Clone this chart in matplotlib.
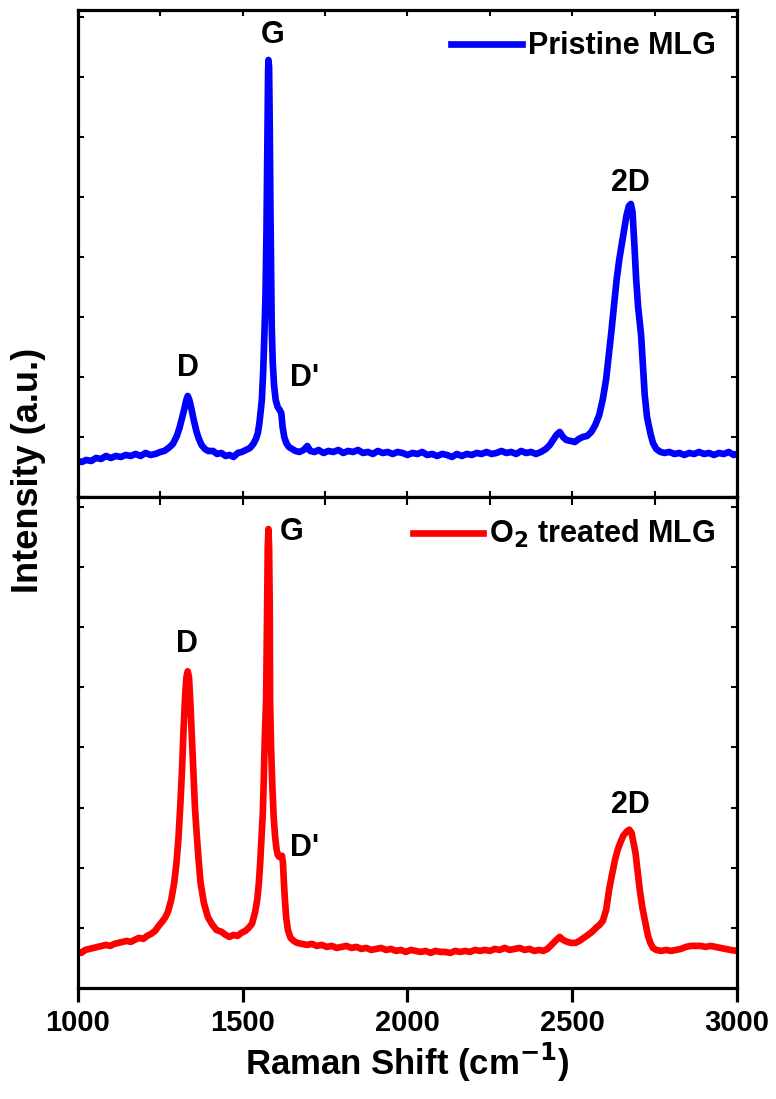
import matplotlib
matplotlib.use("Agg")
import matplotlib.pyplot as plt
from matplotlib.ticker import MultipleLocator

plt.rcParams['font.family'] = ['Liberation Sans', 'DejaVu Sans']
plt.rcParams['font.weight'] = 'bold'
plt.rcParams['mathtext.default'] = 'bf'

# Raman spectrum of pristine multilayer graphene (shift in cm-1, intensity a.u.)
shift_pristine = [
    1000, 1012, 1025, 1040, 1055, 1070, 1085, 1100, 1115, 1130, 1145, 1160, 1175, 1190,
    1205, 1220, 1235, 1250, 1262, 1275, 1288, 1300, 1308, 1315, 1322, 1328, 1333, 1338,
    1345, 1352, 1360, 1367, 1375, 1385, 1395, 1410, 1422, 1435, 1448, 1460, 1472, 1485,
    1497, 1510, 1522, 1532, 1540, 1546, 1551, 1555, 1558, 1562, 1566, 1569, 1572, 1575,
    1577, 1578, 1580, 1582, 1584, 1586, 1588, 1591, 1595, 1600, 1606, 1612, 1617, 1621,
    1626, 1632, 1640, 1650, 1660, 1672, 1685, 1696, 1705, 1718, 1730, 1745, 1760, 1775,
    1790, 1805, 1820, 1835, 1850, 1865, 1880, 1895, 1910, 1925, 1940, 1955, 1970, 1985,
    2000, 2015, 2030, 2045, 2060, 2075, 2090, 2105, 2120, 2135, 2150, 2165, 2180, 2195,
    2210, 2225, 2240, 2255, 2270, 2285, 2300, 2315, 2330, 2345, 2360, 2375, 2390, 2405,
    2420, 2432, 2442, 2452, 2462, 2472, 2482, 2495, 2508, 2520, 2532, 2545, 2558, 2570,
    2582, 2593, 2603, 2611, 2619, 2627, 2635, 2643, 2650, 2658, 2665, 2672, 2678, 2683,
    2689, 2694, 2700, 2709, 2715, 2720, 2727, 2737, 2745, 2755, 2768, 2780, 2795, 2810,
    2825, 2840, 2855, 2870, 2885, 2900, 2915, 2930, 2945, 2960, 2975, 2990, 3000]
intensity_pristine = [
    36, 35, 37, 36, 39, 38, 41, 39, 41, 40, 42, 41, 43, 41,
    44, 42, 43, 45, 46, 49, 53, 61, 69, 78, 87, 96, 101, 97,
    87, 76, 65, 58, 52, 48, 46, 46, 43, 44, 41, 42, 40, 44,
    45, 47, 49, 53, 58, 64, 75, 88, 97, 125, 165, 200, 264, 360,
    425, 437, 430, 370, 290, 230, 170, 135, 112, 97, 90, 87, 84, 70,
    60, 54, 50, 48, 46, 45, 47, 51, 46, 45, 47, 44, 46, 45,
    47, 44, 46, 45, 47, 44, 45, 43, 46, 44, 45, 43, 45, 44,
    42, 44, 43, 45, 42, 43, 41, 43, 42, 40, 43, 41, 43, 42,
    44, 43, 45, 43, 44, 46, 44, 45, 43, 46, 44, 45, 43, 45,
    48, 52, 57, 62, 65, 60, 57, 56, 55, 58, 60, 61, 65, 72,
    82, 98, 118, 142, 166, 192, 218, 238, 252, 268, 282, 291, 293, 285,
    250, 218, 190, 162, 130, 102, 80, 64, 54, 48, 45, 44, 45, 43,
    44, 42, 44, 43, 45, 43, 44, 42, 44, 43, 45, 42, 43]

# Raman spectrum after O2 plasma treatment
shift_treated = [
    1000, 1010, 1022, 1035, 1048, 1060, 1072, 1085, 1098, 1110, 1122, 1135, 1148, 1160,
    1172, 1185, 1198, 1210, 1222, 1234, 1245, 1255, 1264, 1273, 1283, 1292, 1299, 1305,
    1311, 1316, 1320, 1325, 1329, 1333, 1337, 1341, 1345, 1350, 1355, 1360, 1366, 1372,
    1382, 1394, 1406, 1420, 1436, 1448, 1460, 1472, 1484, 1496, 1508, 1518, 1528, 1537,
    1544, 1549, 1553, 1557, 1561, 1564, 1567, 1571, 1574, 1576, 1578, 1580, 1582, 1583,
    1586, 1590, 1594, 1598, 1602, 1606, 1610, 1615, 1619, 1622, 1625, 1628, 1632, 1637,
    1645, 1655, 1665, 1680, 1695, 1710, 1725, 1740, 1755, 1770, 1785, 1800, 1815, 1830,
    1845, 1860, 1875, 1890, 1905, 1920, 1935, 1950, 1965, 1980, 1995, 2010, 2025, 2040,
    2055, 2070, 2085, 2100, 2115, 2130, 2145, 2160, 2175, 2190, 2205, 2220, 2235, 2250,
    2265, 2280, 2295, 2310, 2325, 2340, 2355, 2370, 2385, 2400, 2412, 2425, 2440, 2452,
    2462, 2472, 2485, 2497, 2510, 2522, 2535, 2548, 2560, 2572, 2583, 2593, 2603, 2612,
    2620, 2630, 2638, 2646, 2655, 2665, 2673, 2680, 2686, 2692, 2698, 2705, 2713, 2722,
    2730, 2737, 2745, 2755, 2770, 2785, 2800, 2815, 2830, 2845, 2860, 2875, 2890, 2905,
    2920, 2935, 2950, 2965, 2980, 3000]
intensity_treated = [
    36, 35, 38, 39, 40, 41, 42, 43, 42, 44, 45, 46, 47, 46,
    48, 50, 49, 52, 54, 57, 62, 66, 70, 76, 88, 105, 125, 150,
    185, 220, 255, 290, 310, 316, 310, 285, 255, 215, 180, 155, 128, 105,
    85, 71, 64, 58, 56, 53, 51, 53, 52, 55, 57, 60, 64, 75,
    88, 105, 125, 150, 175, 210, 250, 288, 380, 440, 458, 440, 380, 288,
    240, 200, 170, 152, 140, 133, 131, 131, 132, 125, 105, 88, 70, 58,
    50, 47, 45, 44, 43, 44, 42, 43, 41, 42, 40, 41, 42, 40,
    41, 39, 40, 38, 39, 40, 38, 39, 37, 38, 36, 38, 37, 36,
    37, 35, 37, 36, 36, 35, 37, 36, 37, 36, 38, 37, 38, 37,
    39, 38, 40, 38, 39, 40, 38, 39, 37, 38, 37, 39, 44, 48,
    51, 48, 46, 45, 45, 47, 50, 53, 56, 60, 63, 67, 78, 98,
    112, 128, 138, 145, 152, 156, 158, 155, 145, 135, 118, 98, 80, 65,
    52, 45, 40, 38, 37, 38, 37, 38, 39, 41, 42, 42, 42, 41,
    42, 41, 40, 39, 38, 37]

peaks_pristine = [("D", 1334, 129), ("G", 1592, 462), ("D'", 1689, 119), ("2D", 2675, 314)]
peaks_treated = [("D", 1331, 343), ("G", 1649, 455), ("D'", 1689, 140), ("2D", 2675, 183)]

fig = plt.figure(figsize=(7.76, 10.99), dpi=100)
ax1 = fig.add_axes([0.1005, 0.5478, 0.8492, 0.4431])
ax2 = fig.add_axes([0.1005, 0.1010, 0.8492, 0.4468])

ax1.plot(shift_pristine, intensity_pristine, color='#0000ff', lw=4.8,
         solid_joinstyle='round', label='Pristine MLG')
ax2.plot(shift_treated, intensity_treated, color='#ff0000', lw=4.8,
         solid_joinstyle='round', label='O$_2$ treated MLG')

for ax, peaks, top in [(ax1, peaks_pristine, 487), (ax2, peaks_treated, 490)]:
    ax.set_xlim(1000, 3000)
    ax.set_ylim(0, top)
    for s in ax.spines.values():
        s.set_linewidth(2.3)
    ax.yaxis.set_major_locator(MultipleLocator(60))
    ax.tick_params(axis='y', which='both', direction='in', left=True, right=True,
                   labelleft=False, length=4, width=1.5)
    for name, x, y in peaks:
        ax.text(x, y, name, ha='center', va='center', fontsize=22, fontweight='bold')
    ax.legend(loc='upper right', frameon=False, handlelength=2.3,
              handletextpad=0.2, borderaxespad=0.3,
              prop={'weight': 'bold', 'size': 22})

ax1.xaxis.set_major_locator(MultipleLocator(250))
ax1.tick_params(axis='x', which='both', direction='in', top=True, bottom=True,
                labelbottom=False, length=4, width=1.5)

ax2.xaxis.set_major_locator(MultipleLocator(500))
ax2.tick_params(axis='x', which='major', direction='out', top=False, bottom=True,
                length=10, width=2.3, labelsize=21, pad=5)
ax2.secondary_xaxis('top').tick_params(axis='x', direction='in', length=6, width=1.5,
                                       labeltop=False)
for lab in ax2.get_xticklabels():
    lab.set_fontweight('bold')

ax2.set_xlabel('Raman Shift (cm$^{-1}$)', fontsize=25, fontweight='bold', labelpad=3)
fig.text(0.037, 0.572, 'Intensity (a.u.)', rotation=90, ha='center', va='center',
         fontsize=26, fontweight='bold')

fig.savefig('out.png', dpi=100)
